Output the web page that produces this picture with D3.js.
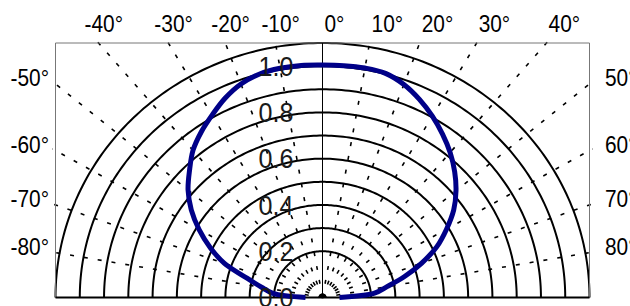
<!DOCTYPE html>
<html>
<head>
<meta charset="utf-8">
<script src="https://cdn.jsdelivr.net/npm/d3@7"></script>
<style>
  body { margin: 0; background: #fff; }
  text { font-family: "Liberation Sans", Arial, sans-serif; }
</style>
</head>
<body>
<div id="polar"></div>
<script>
// angle (deg, 0 = straight up) and relative intensity of the pattern
var angles = [-90, -85, -80, -75, -70, -65, -60, -55, -50, -45, -40, -35, -30, -25, -20, -15, -10, -5,
              0, 5, 10, 15, 20, 25, 30, 35, 40, 45, 50, 55, 60, 65, 70, 75, 80, 85, 90];
var intensity = [0.07, 0.205, 0.255, 0.322, 0.43, 0.51, 0.587, 0.66, 0.723, 0.775, 0.83, 0.872, 0.91, 0.95, 0.982, 1.0, 1.006, 1.007,
                 1.005, 1.006, 1.007, 1.003, 0.98, 0.945, 0.905, 0.862, 0.818, 0.77, 0.718, 0.66, 0.59, 0.52, 0.435, 0.35, 0.27, 0.215, 0.07];

var rings = [0.2, 0.3, 0.4, 0.5, 0.6, 0.7, 0.8, 0.9, 1.0, 1.1];
var ringLabels = ["0.0", "0.2", "0.4", "0.6", "0.8", "1.0"];
var spokes = [-80, -70, -60, -50, -40, -30, -20, -10, 10, 20, 30, 40, 50, 60, 70, 80];
var topTicks = [-40, -30, -20, -10, 0, 10, 20, 30, 40];
var sideTicks = [-80, -70, -60, -50, 50, 60, 70, 80];

var width = 630, height = 306;
var rMax = 1.1;
var narrow = 0.87;   // the original labels use a tall, narrow face

var svg = d3.select('div#polar')
            .append('svg')
            .attr('width', width)
            .attr('height', height);

var xScale = d3.scaleLinear().domain([-rMax, rMax]).range([55.5, 589.5]);
var yScale = d3.scaleLinear().domain([0, rMax]).range([297.5, 43]);

var rad = function(a) { return a * Math.PI / 180; };
var px = function(r, a) { return xScale(r * Math.sin(rad(a))); };
var py = function(r, a) { return yScale(r * Math.cos(rad(a))); };

// where a spoke leaves the frame
var rEnd = function(a) {
  var s = Math.abs(Math.sin(rad(a))), c = Math.cos(rad(a));
  return Math.min(s > 0 ? rMax / s : 99, c > 0 ? rMax / c : 99);
};

var halfCircle = d3.range(-90, 90.5, 1);
var ringLine = d3.line()
                 .x(function(d) { return d[0]; })
                 .y(function(d) { return d[1]; });

// rings
svg.append('g')
   .selectAll('path')
   .data(rings)
   .enter()
   .append('path')
   .attr('d', function(r) { return ringLine(halfCircle.map(function(a) { return [px(r, a), py(r, a)]; })); })
   .attr('fill', 'none')
   .attr('stroke', '#000')
   .attr('stroke-width', 2);

// dashed spokes
svg.append('g')
   .selectAll('line')
   .data(spokes)
   .enter()
   .append('line')
   .attr('x1', px(0, 0))
   .attr('y1', py(0, 0))
   .attr('x2', function(a) { return px(rEnd(a) + 0.015, a); })
   .attr('y2', function(a) { return py(rEnd(a) + 0.015, a); })
   .attr('stroke', '#000')
   .attr('stroke-width', 1.6)
   .attr('stroke-dasharray', '4,10');

// frame
svg.append('path')
   .attr('d', 'M' + xScale(-rMax) + ',' + yScale(0) + 'V' + yScale(rMax) + 'H' + xScale(rMax) + 'V' + yScale(0))
   .attr('fill', 'none')
   .attr('stroke', '#777')
   .attr('stroke-width', 1);

// centre line and base line
svg.append('line')
   .attr('x1', xScale(0)).attr('x2', xScale(0))
   .attr('y1', yScale(rMax)).attr('y2', yScale(0))
   .attr('stroke', '#000').attr('stroke-width', 1);
svg.append('line')
   .attr('x1', xScale(-rMax)).attr('x2', xScale(rMax))
   .attr('y1', yScale(0)).attr('y2', yScale(0))
   .attr('stroke', '#000').attr('stroke-width', 2);

// angle labels along the top
svg.append('g')
   .selectAll('text')
   .data(topTicks)
   .enter()
   .append('text')
   .attr('transform', function(a) {
     return 'translate(' + (px(rEnd(a), a) + (a < 0 ? -14 : 2)) + ',32) scale(' + narrow + ',1)';
   })
   .attr('font-size', 24)
   .attr('fill', '#000')
   .text(function(a) { return a + '°'; });

// angle labels on the sides
svg.append('g')
   .selectAll('text')
   .data(sideTicks)
   .enter()
   .append('text')
   .attr('transform', function(a) {
     return 'translate(' + (a < 0 ? 49 : 605) + ',' + (py(rEnd(a), a) + 2) + ') scale(' + narrow + ',1)';
   })
   .attr('text-anchor', function(a) { return a < 0 ? 'end' : 'start'; })
   .attr('font-size', 24)
   .attr('fill', '#000')
   .text(function(a) { return a + '°'; });

// the pattern itself
var pattern = d3.line()
                .x(function(d, i) { return px(d, angles[i]); })
                .y(function(d, i) { return py(d, angles[i]); })
                .curve(d3.curveCatmullRom);

svg.append('path')
   .datum(intensity)
   .attr('d', pattern)
   .attr('fill', 'none')
   .attr('stroke', '#000088')
   .attr('stroke-width', 5)
   .attr('stroke-linejoin', 'round');

// radial labels
svg.append('g')
   .selectAll('text')
   .data(ringLabels)
   .enter()
   .append('text')
   .attr('transform', function(d) { return 'translate(' + (xScale(0) - 29) + ',' + yScale(+d) + ') scale(0.93,1)'; })
   .attr('dy', '0.36em')
   .attr('text-anchor', 'end')
   .attr('font-size', 27)
   .attr('fill', '#1a1a1a')
   .text(function(d) { return d; });
</script>
</body>
</html>
